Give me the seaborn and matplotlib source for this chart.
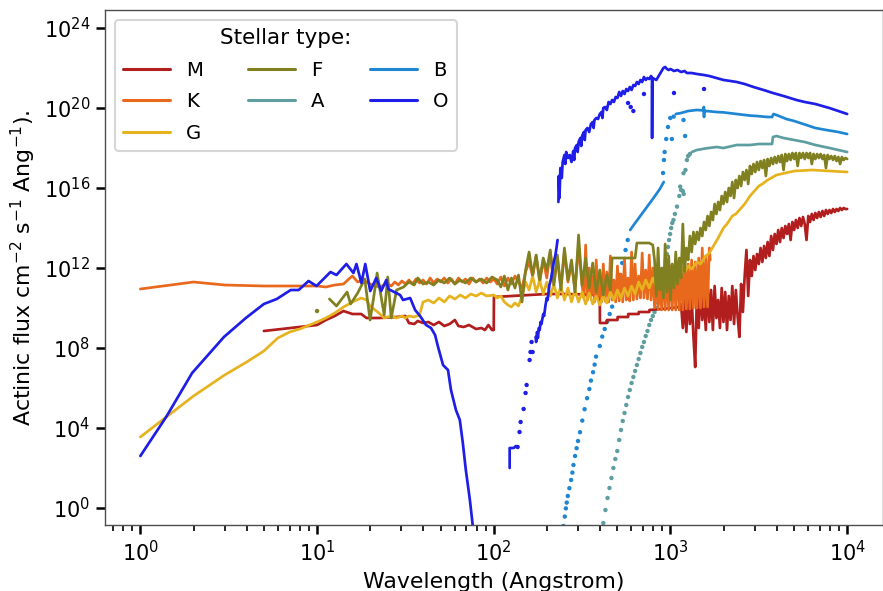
import numpy as np
import pandas as pd
import matplotlib
matplotlib.use("Agg")
import matplotlib.pyplot as plt
import matplotlib.ticker as mticker
import seaborn as sns

# ---------------- data (log10 wavelength [Angstrom], log10 flux) ----------------
TYPES = ["M", "K", "G", "F", "A", "B", "O"]
COLORS = ["#B21D1D", "#E8691C", "#E6B31E", "#808020", "#5F9EA0", "#1F86D4", "#1E1EE6"]

M_LINE = [(0.699, 8.85), (0.80, 8.95), (0.90, 9.05), (1.00, 9.15), (1.05, 9.4), (1.10, 9.6),
          (1.15, 9.85), (1.20, 9.7), (1.25, 9.7), (1.28, 9.5), (1.35, 9.5), (1.45, 9.55),
          (1.50, 9.6), (1.52, 9.25), (1.55, 9.2), (1.57, 9.35), (1.60, 9.25), (1.63, 9.3),
          (1.66, 9.15), (1.69, 9.3), (1.72, 9.1), (1.75, 9.2), (1.78, 9.4), (1.80, 9.1),
          (1.83, 9.05), (1.86, 9.15), (1.90, 8.95), (1.93, 9.0), (1.95, 8.9), (1.97, 9.15),
          (1.99, 8.9), (2.00, 8.9), (2.001, 10.55), (2.10, 10.6), (2.20, 10.65), (2.30, 10.7),
          (2.40, 10.7), (2.50, 10.68), (2.60, 10.65), (2.601, 9.25), (2.64, 9.25), (2.641, 9.4),
          (2.70, 9.4), (2.701, 9.55), (2.76, 9.55), (2.761, 9.7), (2.82, 9.7), (2.821, 9.8),
          (2.88, 9.8), (2.881, 9.9), (2.95, 9.95), (3.00, 10.0), (3.05, 10.05)]
M_NOISE = [(3.06, 10.2), (3.07, 9.0), (3.08, 10.4), (3.09, 8.8), (3.10, 10.9), (3.11, 9.2),
           (3.12, 10.5), (3.13, 8.6), (3.14, 7.05), (3.15, 10.8), (3.16, 9.0), (3.17, 11.2),
           (3.18, 9.4), (3.19, 10.6), (3.20, 8.9), (3.21, 11.3), (3.22, 9.3), (3.23, 10.9),
           (3.24, 8.9), (3.25, 11.1), (3.26, 9.5), (3.27, 10.4), (3.28, 9.0), (3.29, 11.0),
           (3.30, 9.3), (3.31, 10.8), (3.32, 8.9), (3.33, 10.6), (3.34, 9.4), (3.35, 11.1),
           (3.36, 9.2), (3.37, 10.9), (3.38, 9.6), (3.39, 8.55), (3.40, 11.2), (3.41, 9.8),
           (3.42, 11.6), (3.43, 12.9), (3.44, 10.6), (3.45, 12.4), (3.46, 11.6), (3.47, 12.6),
           (3.48, 11.9), (3.49, 12.7), (3.50, 12.2), (3.51, 13.0), (3.52, 12.3), (3.53, 13.1),
           (3.54, 12.5), (3.55, 13.3), (3.56, 12.6), (3.57, 13.6), (3.58, 12.9), (3.59, 13.7),
           (3.60, 13.2), (3.61, 13.9), (3.62, 13.3), (3.63, 14.0), (3.64, 13.5), (3.65, 14.1),
           (3.66, 13.7), (3.67, 14.2), (3.68, 13.4), (3.69, 14.3), (3.70, 13.9), (3.71, 14.4),
           (3.72, 14.0), (3.73, 14.5), (3.74, 14.1), (3.75, 14.55), (3.76, 14.2), (3.77, 13.4),
           (3.78, 14.6), (3.79, 14.3), (3.80, 14.7), (3.81, 14.4), (3.82, 14.75), (3.83, 14.5),
           (3.84, 14.8), (3.85, 14.55), (3.86, 14.85), (3.87, 14.6), (3.88, 14.9), (3.89, 14.7),
           (3.90, 14.9), (3.91, 14.75), (3.92, 14.95), (3.93, 14.8), (3.94, 14.95), (3.95, 14.85),
           (3.96, 15.0), (3.97, 14.9), (3.98, 15.0), (3.99, 14.95), (4.00, 14.95)]

K_LINE = [(0.0, 10.95), (0.301, 11.3), (0.477, 11.15), (0.602, 11.12), (0.699, 11.1), (0.778, 11.1),
          (0.845, 11.1), (0.903, 11.1), (0.954, 11.1), (1.0, 11.1), (1.05, 11.05), (1.10, 11.15),
          (1.15, 11.2), (1.18, 11.45), (1.20, 11.6), (1.23, 11.3), (1.26, 11.4), (1.30, 11.2),
          (1.35, 11.05), (1.40, 11.2), (1.42, 11.1), (1.44, 11.3), (1.46, 11.15), (1.48, 11.35),
          (1.50, 11.2), (1.52, 11.4), (1.54, 11.2), (1.56, 11.45), (1.58, 11.25), (1.60, 11.4),
          (1.62, 11.2), (1.64, 11.5), (1.66, 11.25), (1.68, 11.45), (1.70, 11.3), (1.72, 11.5),
          (1.74, 11.25), (1.76, 11.45), (1.78, 11.2), (1.80, 11.5), (1.82, 11.3), (1.84, 11.45),
          (1.86, 11.2), (1.88, 11.5), (1.90, 11.3), (1.92, 11.45), (1.94, 11.25), (1.96, 11.5),
          (1.98, 11.3), (2.00, 11.45), (2.02, 11.2), (2.04, 11.55), (2.06, 11.1), (2.08, 11.5),
          (2.10, 11.2), (2.12, 11.6), (2.14, 11.3), (2.16, 11.0), (2.18, 11.8), (2.20, 12.3),
          (2.22, 11.6), (2.24, 12.6), (2.26, 11.3), (2.28, 12.4), (2.30, 11.5), (2.32, 12.8),
          (2.34, 11.2), (2.36, 12.5), (2.38, 11.0), (2.40, 12.8), (2.42, 11.3), (2.44, 12.2),
          (2.46, 10.9), (2.48, 13.1), (2.50, 11.1)]
K_NOISE = [(2.51, 10.5), (2.52, 13.15), (2.53, 10.4), (2.54, 12.0), (2.55, 10.6), (2.56, 11.6),
           (2.57, 10.3), (2.58, 12.4), (2.59, 10.4), (2.60, 11.5), (2.61, 10.3), (2.62, 12.2),
           (2.63, 10.35), (2.64, 11.8), (2.65, 10.3), (2.66, 12.6), (2.67, 10.4), (2.68, 11.4),
           (2.69, 10.3), (2.70, 12.1), (2.71, 10.35), (2.72, 11.7), (2.73, 10.3), (2.74, 12.5),
           (2.75, 10.4), (2.76, 11.5), (2.77, 10.35), (2.78, 12.8), (2.79, 10.4), (2.80, 12.2),
           (2.81, 10.45), (2.82, 11.6), (2.83, 10.5), (2.84, 12.75), (2.85, 10.5), (2.86, 11.9),
           (2.87, 10.45), (2.88, 12.65), (2.89, 10.4), (2.90, 12.0), (2.91, 10.0), (2.92, 11.8),
           (2.93, 9.95), (2.94, 11.9), (2.95, 9.9), (2.96, 12.0), (2.97, 9.9), (2.98, 11.9),
           (2.99, 9.9), (3.00, 12.1), (3.01, 9.9), (3.02, 12.0), (3.03, 9.9), (3.04, 12.2),
           (3.05, 9.9), (3.06, 12.1), (3.07, 9.9), (3.08, 12.3), (3.09, 9.95), (3.10, 12.2),
           (3.11, 9.95), (3.12, 12.4), (3.13, 10.0), (3.14, 12.3), (3.15, 10.0), (3.16, 12.5),
           (3.17, 10.0), (3.18, 13.0), (3.19, 10.05), (3.20, 12.6), (3.21, 10.05), (3.22, 13.0),
           (3.225, 12.4)]

G_LINE = [(0.0, 3.55), (0.301, 5.6), (0.477, 6.65), (0.602, 7.3), (0.699, 7.85), (0.778, 8.5),
          (0.845, 8.8), (0.903, 8.95), (1.0, 9.3), (1.05, 9.5), (1.10, 9.75), (1.15, 10.05),
          (1.20, 10.3), (1.25, 10.5), (1.28, 10.4), (1.30, 10.1), (1.35, 9.75), (1.38, 9.5),
          (1.42, 9.6), (1.45, 9.5), (1.48, 9.6), (1.50, 9.5), (1.52, 9.6), (1.55, 9.55),
          (1.58, 9.65), (1.60, 10.3), (1.63, 10.4), (1.66, 10.25), (1.69, 10.5), (1.72, 10.3),
          (1.75, 10.6), (1.78, 10.45), (1.81, 10.65), (1.84, 10.5), (1.87, 10.7), (1.90, 10.6),
          (1.93, 10.75), (1.96, 10.6), (2.00, 10.65), (2.02, 10.5), (2.04, 10.6), (2.06, 10.3),
          (2.08, 10.15), (2.10, 10.05), (2.12, 10.25), (2.14, 10.1), (2.16, 10.6), (2.18, 11.3),
          (2.20, 10.9), (2.22, 11.6), (2.24, 10.8), (2.26, 11.4), (2.28, 10.7), (2.30, 11.3),
          (2.32, 10.6), (2.34, 11.2), (2.36, 10.5), (2.38, 11.1), (2.40, 10.4), (2.42, 11.0),
          (2.44, 10.3), (2.46, 10.9), (2.48, 10.3), (2.50, 10.8), (2.52, 10.2), (2.54, 10.75),
          (2.56, 10.2), (2.58, 10.6), (2.60, 10.15), (2.62, 10.6), (2.64, 10.25), (2.66, 10.8),
          (2.68, 10.4), (2.70, 10.9), (2.72, 10.5), (2.74, 11.0), (2.76, 10.6), (2.78, 11.1),
          (2.80, 10.7), (2.82, 11.3), (2.84, 10.9), (2.86, 11.4), (2.88, 11.0), (2.90, 11.5),
          (2.92, 11.1), (2.94, 11.6), (2.96, 11.25), (2.98, 11.7), (3.00, 11.4), (3.02, 11.8),
          (3.04, 11.55), (3.06, 11.9), (3.08, 11.8), (3.10, 12.1), (3.12, 11.95), (3.15, 12.3),
          (3.17, 12.2), (3.20, 12.6), (3.22, 12.75), (3.25, 13.2), (3.27, 13.5), (3.30, 14.0),
          (3.32, 14.2), (3.35, 14.6), (3.37, 14.7), (3.40, 15.0), (3.42, 15.2), (3.45, 15.6),
          (3.47, 15.8), (3.50, 16.1), (3.52, 16.2), (3.55, 16.4), (3.60, 16.65), (3.65, 16.75),
          (3.70, 16.85), (3.80, 16.9), (3.90, 16.85), (4.00, 16.8)]

F_DOTS = [(1.0, 9.85)]
F_LINE = [(1.07, 10.45), (1.11, 10.1), (1.17, 10.8), (1.19, 10.2), (1.23, 10.75), (1.27, 11.45),
          (1.30, 9.4), (1.32, 10.5), (1.34, 11.75), (1.38, 9.65), (1.40, 11.55), (1.42, 9.5),
          (1.45, 10.9), (1.49, 11.05), (1.52, 11.3), (1.55, 11.15), (1.57, 11.5), (1.60, 11.2),
          (1.63, 11.3), (1.66, 11.15), (1.69, 11.4), (1.72, 11.25), (1.75, 11.5), (1.78, 11.2),
          (1.81, 11.4), (1.84, 11.25), (1.87, 11.5), (1.90, 11.3), (1.93, 11.45), (1.96, 11.25),
          (1.99, 11.55), (2.02, 11.4), (2.04, 11.05), (2.06, 11.6), (2.08, 10.9), (2.10, 11.5),
          (2.12, 11.0), (2.14, 11.65), (2.16, 10.3), (2.18, 11.9), (2.20, 12.8), (2.22, 11.65),
          (2.24, 12.65), (2.26, 11.4), (2.28, 12.5), (2.30, 11.9), (2.32, 12.9), (2.34, 11.15),
          (2.36, 12.65), (2.38, 10.9), (2.40, 13.0), (2.42, 11.4), (2.44, 12.4), (2.46, 10.8),
          (2.48, 13.65), (2.50, 11.15), (2.52, 12.5), (2.54, 11.0), (2.56, 12.25), (2.58, 10.8),
          (2.60, 11.9), (2.62, 10.65), (2.64, 11.65), (2.66, 10.9), (2.67, 12.5), (2.80, 12.5),
          (2.81, 13.25), (2.88, 13.25), (2.90, 13.15), (2.91, 12.4), (2.92, 10.6), (2.93, 13.0),
          (2.94, 10.9), (2.95, 12.0), (2.96, 10.5), (2.97, 13.2), (2.98, 10.8), (2.99, 12.6),
          (3.00, 10.4), (3.01, 12.2), (3.02, 11.0), (3.03, 12.8), (3.04, 11.2), (3.05, 12.5),
          (3.06, 11.5), (3.07, 14.2), (3.08, 11.8), (3.09, 13.0), (3.10, 12.4), (3.11, 13.6),
          (3.12, 12.8), (3.13, 13.8), (3.14, 13.2), (3.15, 13.8), (3.16, 13.4), (3.17, 14.0),
          (3.18, 13.6), (3.19, 14.3), (3.20, 13.9), (3.21, 14.6), (3.22, 14.1), (3.23, 14.8),
          (3.24, 14.4), (3.25, 15.2), (3.26, 14.7), (3.27, 15.3), (3.28, 14.9), (3.29, 15.6),
          (3.30, 15.2), (3.31, 15.8), (3.32, 15.3), (3.33, 16.0), (3.34, 15.6), (3.35, 16.3),
          (3.36, 15.5), (3.37, 16.4), (3.38, 16.0), (3.39, 16.6), (3.40, 16.1), (3.41, 16.8),
          (3.42, 16.4), (3.43, 16.9), (3.44, 16.2), (3.45, 17.1), (3.46, 16.7), (3.47, 17.2),
          (3.48, 16.8), (3.49, 17.3), (3.50, 16.9), (3.51, 17.35), (3.52, 17.0), (3.53, 17.4),
          (3.54, 16.6), (3.55, 17.45), (3.56, 17.1), (3.57, 17.5), (3.58, 17.2), (3.59, 17.55),
          (3.60, 17.25), (3.61, 17.6), (3.62, 17.3), (3.63, 17.65), (3.64, 16.9), (3.65, 17.7),
          (3.66, 17.35), (3.67, 17.7), (3.68, 17.4), (3.69, 17.75), (3.70, 17.45), (3.71, 17.75),
          (3.72, 17.1), (3.73, 17.75), (3.74, 17.5), (3.75, 17.75), (3.76, 17.45), (3.77, 17.75),
          (3.78, 17.5), (3.79, 17.75), (3.80, 17.2), (3.81, 17.7), (3.82, 17.45), (3.83, 17.7),
          (3.84, 17.5), (3.85, 17.7), (3.86, 17.45), (3.87, 17.65), (3.88, 17.0), (3.89, 17.65),
          (3.90, 17.45), (3.91, 17.6), (3.92, 17.4), (3.93, 17.6), (3.94, 17.35), (3.95, 17.55),
          (3.96, 17.2), (3.97, 17.55), (3.98, 17.4), (3.99, 17.5), (4.00, 17.45)]

A_DOTS = [(2.62, -0.75), (2.632, -0.1), (2.644, 0.5), (2.655, 1.0), (2.666, 1.5), (2.677, 2.0),
          (2.688, 2.45), (2.699, 2.85), (2.71, 3.4), (2.72, 3.9), (2.73, 4.35), (2.74, 4.75),
          (2.75, 5.15), (2.76, 5.55), (2.77, 5.9), (2.78, 6.25), (2.79, 6.55), (2.80, 6.85),
          (2.81, 7.15), (2.82, 7.45), (2.83, 7.75), (2.84, 8.05), (2.85, 8.3), (2.86, 8.6),
          (2.87, 8.85), (2.88, 9.15), (2.89, 9.4), (2.90, 9.6), (2.91, 9.8), (2.92, 10.0),
          (2.93, 10.25), (2.94, 10.5), (2.95, 10.8), (2.956, 11.2), (2.962, 11.6), (2.968, 12.0),
          (2.974, 12.35), (2.98, 12.7), (2.986, 13.05), (2.992, 13.4), (2.998, 13.7), (3.004, 14.0),
          (3.01, 14.25), (3.017, 14.4), (3.025, 14.7), (3.037, 15.07), (3.05, 15.6), (3.055, 16.07),
          (3.06, 15.9), (3.07, 15.85), (3.075, 15.7), (3.074, 16.74), (3.085, 16.9), (3.093, 17.4),
          (3.10, 17.6), (3.11, 17.7)]
A_LINE = [(3.121, 17.8), (3.149, 17.9), (3.20, 17.98), (3.262, 18.05), (3.30, 18.0), (3.375, 18.15),
          (3.45, 18.15), (3.50, 18.2), (3.575, 18.2), (3.58, 18.55), (3.60, 18.6), (3.64, 18.5),
          (3.70, 18.4), (3.76, 18.3), (3.82, 18.15), (3.90, 18.0), (4.00, 17.8)]

B_DOTS = [(2.394, -0.9), (2.402, -0.43), (2.408, -0.02), (2.413, 0.27), (2.419, 0.6), (2.428, 0.99),
          (2.438, 1.4), (2.445, 1.77), (2.451, 2.15), (2.460, 2.6), (2.469, 2.99), (2.477, 3.35),
          (2.488, 3.79), (2.501, 4.37), (2.514, 4.94), (2.528, 5.49), (2.541, 5.95), (2.550, 6.37),
          (2.562, 6.79), (2.571, 7.17), (2.579, 7.57), (2.60, 8.1), (2.614, 8.57), (2.628, 8.95),
          (2.642, 9.32), (2.656, 9.7), (2.670, 10.07), (2.684, 10.55), (2.699, 11.07), (2.713, 11.65),
          (2.727, 12.25), (2.746, 12.9), (2.758, 13.4), (2.958, 16.75), (2.963, 17.4), (2.967, 17.8),
          (2.976, 18.45), (2.986, 19.05), (2.999, 19.5), (3.008, 18.45), (3.018, 19.57),
          (3.074, 19.4), (3.083, 18.6)]
B_LINE1 = [(2.772, 13.9), (2.80, 14.25), (2.85, 14.85), (2.90, 15.45), (2.94, 15.95), (2.962, 16.3)]
B_LINE2 = [(3.03, 19.7), (3.06, 19.75), (3.10, 19.85), (3.149, 19.9), (3.188, 19.88), (3.189, 20.05),
           (3.19, 19.55), (3.191, 19.87), (3.20, 19.85), (3.262, 19.8), (3.30, 19.78), (3.375, 19.7),
           (3.45, 19.62), (3.487, 19.6), (3.55, 19.55), (3.575, 19.55), (3.583, 19.7), (3.60, 19.65),
           (3.656, 19.45), (3.70, 19.35), (3.769, 19.15), (3.82, 19.0), (3.882, 18.9), (3.95, 18.8),
           (4.00, 18.7)]

O_LINE1 = [(0.0, 2.6), (0.146, 4.55), (0.293, 6.75), (0.473, 8.55), (0.597, 9.5), (0.699, 10.2),
           (0.772, 10.45), (0.851, 10.9), (0.896, 10.9), (0.952, 11.35), (0.997, 11.1), (1.076, 11.8),
           (1.110, 11.65), (1.166, 12.2), (1.206, 11.75), (1.223, 12.2), (1.251, 11.25), (1.273, 12.2),
           (1.301, 10.85), (1.335, 11.5), (1.363, 10.85), (1.392, 11.4), (1.403, 10.95), (1.470, 10.65),
           (1.487, 10.4), (1.527, 10.5), (1.555, 9.9), (1.583, 9.6), (1.617, 9.15), (1.645, 9.0),
           (1.668, 8.65), (1.685, 8.05), (1.713, 7.15), (1.741, 6.9), (1.758, 5.9), (1.786, 4.9),
           (1.808, 4.4), (1.825, 3.25), (1.842, 1.9), (1.865, 0.4), (1.882, -0.95), (1.893, -1.85)]
O_LINE2 = [(2.09, 2.0), (2.09, 3.0), (2.113, 3.0), (2.125, 3.1)]
O_DOTS = [(2.135, 3.05), (2.146, 3.8), (2.152, 4.3), (2.169, 4.95), (2.180, 5.75), (2.186, 6.15),
          (2.203, 7.4), (2.208, 7.8), (2.214, 8.3), (2.220, 7.8), (2.76, 20.25), (2.775, 20.05),
          (2.79, 19.85), (2.85, 20.7), (3.02, 20.75), (3.19, 20.95)]
O_LINE3 = [(2.237, 8.55), (2.24, 8.3), (2.245, 8.8), (2.25, 8.5), (2.255, 9.0), (2.26, 8.9),
           (2.265, 9.3), (2.27, 9.2), (2.276, 9.5), (2.28, 9.7), (2.285, 9.6), (2.293, 10.15),
           (2.30, 10.5), (2.305, 10.4), (2.315, 11.15), (2.32, 11.3), (2.325, 11.5), (2.332, 11.9),
           (2.34, 12.3), (2.349, 12.65), (2.355, 13.0), (2.361, 13.4)]
O_LINE4 = [(2.366, 15.3), (2.368, 16.6), (2.372, 15.5), (2.377, 17.0), (2.385, 16.5), (2.39, 17.3),
           (2.40, 17.65), (2.405, 17.2), (2.41, 17.8), (2.42, 17.5), (2.43, 17.65), (2.44, 17.3),
           (2.45, 17.85), (2.455, 17.4), (2.46, 18.0), (2.47, 18.15), (2.475, 17.8), (2.48, 18.3),
           (2.49, 18.5), (2.495, 18.1), (2.50, 18.6), (2.51, 18.8), (2.515, 18.4), (2.52, 18.9),
           (2.53, 19.0), (2.54, 18.8), (2.55, 19.2), (2.56, 19.3), (2.565, 19.0), (2.57, 19.4),
           (2.58, 19.5), (2.59, 19.45), (2.60, 19.7), (2.61, 19.8), (2.615, 19.5), (2.62, 20.0),
           (2.63, 20.05), (2.64, 19.9), (2.65, 20.3), (2.66, 20.2), (2.67, 20.4), (2.68, 20.3),
           (2.69, 20.55), (2.70, 20.5), (2.71, 20.8), (2.72, 20.6), (2.73, 20.85), (2.74, 20.7),
           (2.75, 20.95), (2.76, 20.85), (2.77, 21.05), (2.78, 20.9), (2.79, 21.15), (2.80, 21.1),
           (2.81, 21.3), (2.82, 21.2), (2.83, 21.4), (2.84, 21.3), (2.85, 21.55), (2.86, 21.4),
           (2.87, 21.5), (2.88, 21.45), (2.89, 21.6), (2.896, 21.5), (2.896, 18.5), (2.897, 21.5),
           (2.91, 21.45), (2.92, 21.4), (2.93, 21.55), (2.94, 21.7), (2.95, 21.85), (2.96, 22.0),
           (2.97, 22.05), (2.98, 21.95), (2.99, 21.9), (3.00, 21.95), (3.02, 21.85), (3.04, 21.9),
           (3.06, 21.8), (3.08, 21.85), (3.093, 21.75), (3.12, 21.75), (3.15, 21.7), (3.189, 21.65),
           (3.22, 21.6), (3.26, 21.5), (3.301, 21.4), (3.34, 21.35), (3.375, 21.3), (3.42, 21.2),
           (3.47, 21.05), (3.527, 20.9), (3.58, 20.75), (3.64, 20.6), (3.713, 20.4), (3.76, 20.3),
           (3.82, 20.2), (3.899, 20.0), (3.95, 19.85), (4.00, 19.7)]

LINE_SEGMENTS = [("M", M_LINE + M_NOISE), ("K", K_LINE + K_NOISE), ("G", G_LINE), ("F", F_LINE),
                 ("A", A_LINE), ("B", B_LINE1), ("B", B_LINE2), ("O", O_LINE1), ("O", O_LINE2),
                 ("O", O_LINE3), ("O", O_LINE4)]
DOT_SEGMENTS = [("F", F_DOTS), ("A", A_DOTS), ("B", B_DOTS), ("O", O_DOTS)]


def to_frame(segments):
    rows = []
    for i, (t, pts) in enumerate(segments):
        for k, (lw, lf) in enumerate(pts):
            rows.append({"wl": 10 ** lw, "flux": 10 ** lf, "type": t, "seg": i, "order": k})
    return pd.DataFrame(rows)


lines_df = to_frame(LINE_SEGMENTS)
dots_df = to_frame(DOT_SEGMENTS)

# ---------------- style ----------------
sns.set_theme(style="ticks", context="talk")
plt.rcParams["font.family"] = ["DejaVu Sans"]
plt.rcParams.update({"text.color": "black", "axes.labelcolor": "black",
                     "xtick.color": "black", "ytick.color": "black",
                     "xtick.labelcolor": "black", "ytick.labelcolor": "black"})
palette = dict(zip(TYPES, COLORS))

fig = plt.figure(figsize=(8.83, 5.91), dpi=100)
ax = fig.add_axes([105 / 883, 66 / 591, 777.5 / 883, 515 / 591])
ax.set_xscale("log")
ax.set_yscale("log")

sns.lineplot(data=lines_df, x="wl", y="flux", hue="type", hue_order=TYPES, palette=palette,
             units="seg", estimator=None, sort=False, lw=1.95, ax=ax, legend=True)
sns.scatterplot(data=dots_df, x="wl", y="flux", hue="type", hue_order=TYPES, palette=palette,
                s=10, linewidth=0, ax=ax, legend=False)

ax.set_xlim(10 ** -0.2, 10 ** 4.2)
ax.set_ylim(10 ** -0.85, 10 ** 24.9)
ax.yaxis.set_major_locator(mticker.FixedLocator([10.0 ** e for e in range(0, 25, 4)]))
ax.yaxis.set_minor_locator(mticker.NullLocator())
ax.xaxis.set_major_locator(mticker.LogLocator(base=10, numticks=20))
ax.xaxis.set_minor_locator(mticker.LogLocator(base=10, subs=np.arange(2, 10), numticks=20))

ax.tick_params(which="major", length=6.5, width=1.8, labelsize=15, color="black", pad=4)
ax.tick_params(which="minor", length=4, width=1.2, color="black")
for sp in ax.spines.values():
    sp.set_linewidth(1.0)
    sp.set_color("0.3")

ax.set_xlabel("Wavelength (Angstrom)", fontsize=15.8, labelpad=5.5)
ax.set_ylabel(r"Actinic flux cm$^{-2}$ s$^{-1}$ Ang$^{-1}$).", fontsize=15.8, labelpad=4)

handles, labels = ax.get_legend_handles_labels()
hmap = dict(zip(labels, handles))
leg = ax.legend([hmap[t] for t in TYPES], TYPES, title="Stellar type:", ncol=3, loc="upper left",
                fontsize=14.2, title_fontsize=15.5, handlelength=2.4, columnspacing=2.3,
                handletextpad=0.8, labelspacing=0.65, frameon=True)
for h in leg.get_lines():
    h.set_linewidth(2.2)

fig.savefig("out.png", dpi=100)
